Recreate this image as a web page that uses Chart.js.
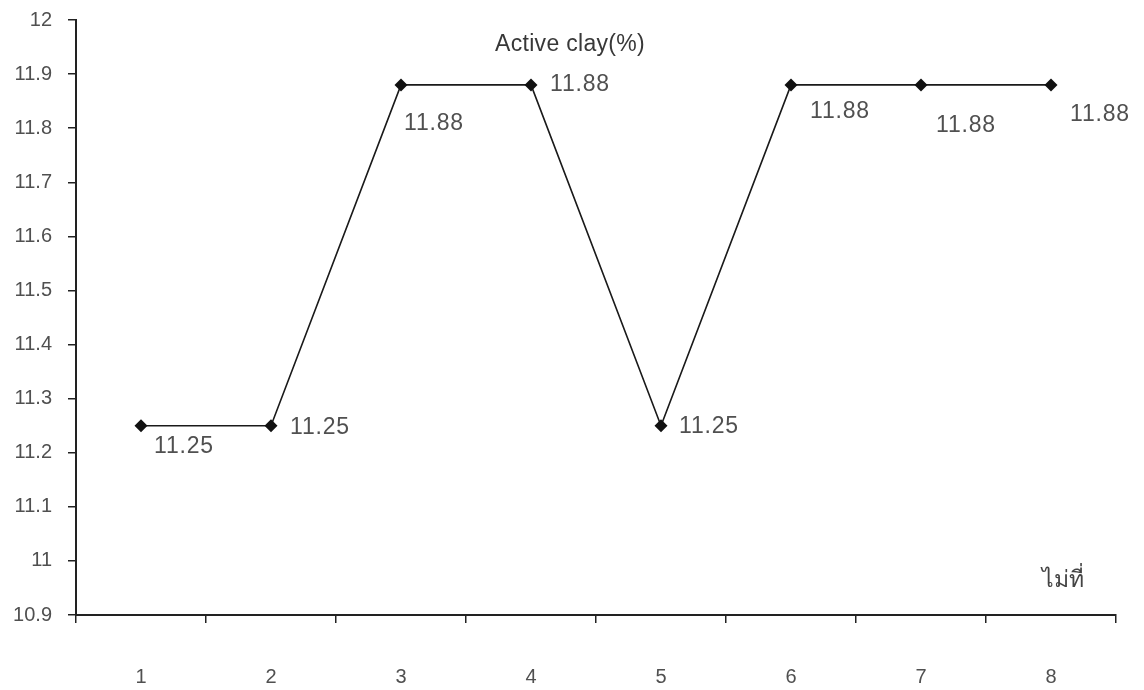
<!DOCTYPE html>
<html>
<head>
<meta charset="utf-8">
<script src="https://cdn.jsdelivr.net/npm/chart.js@4.4.1/dist/chart.umd.min.js"></script>
<style>
  html, body { margin: 0; padding: 0; background: #ffffff; }
  #wrap { width: 1144px; height: 690px; position: relative; }
</style>
</head>
<body>
<div id="wrap"><canvas id="c" width="1144" height="690"></canvas></div>
<script>
const categories = ["1", "2", "3", "4", "5", "6", "7", "8"];
const activeClay = [11.25, 11.25, 11.88, 11.88, 11.25, 11.88, 11.88, 11.88];
const dataLabels = ["11.25", "11.25", "11.88", "11.88", "11.25", "11.88", "11.88", "11.88"];
const chartTitle = "Active clay(%)";
const xAxisTitle = "ไม่ที่";
const yMin = 10.9, yMax = 12, yStep = 0.1;

// label placement offsets relative to each point (style only)
const labelOffsets = [[13, 21], [19, 2], [3, 39], [19, 0], [18, 1], [19, 27], [15, 41], [19, 30]];

const FONT = "'Liberation Sans', Arial, Helvetica, sans-serif";
const TEXT = "#505050";

const labelPlugin = {
  id: "labelPlugin",
  afterDatasetsDraw(chart) {
    const ctx = chart.ctx;
    const meta = chart.getDatasetMeta(0);
    ctx.save();
    ctx.font = "23px " + FONT;
    try { ctx.letterSpacing = "0.8px"; } catch (e) {}
    ctx.fillStyle = TEXT;
    ctx.textAlign = "left";
    ctx.textBaseline = "middle";
    meta.data.forEach((pt, i) => {
      const o = labelOffsets[i];
      ctx.fillText(dataLabels[i], pt.x + o[0], pt.y + o[1]);
    });
    // title
    const area = chart.chartArea;
    ctx.textAlign = "center";
    ctx.fillStyle = "#383838";
    ctx.font = "23px " + FONT;
    try { ctx.letterSpacing = "0.3px"; } catch (e) {}
    ctx.fillText(chartTitle, chart.scales.x.getPixelForValue(3.2) + 13, 45);
    // x axis title
    try { ctx.letterSpacing = "0px"; } catch (e) {}
    ctx.textAlign = "right";
    ctx.font = "23px 'Noto Sans', " + FONT;
    ctx.fillStyle = "#444444";
    ctx.fillText(xAxisTitle, area.right - 32, 580);
    ctx.restore();
  }
};

new Chart(document.getElementById("c"), {
  type: "line",
  data: {
    labels: categories,
    datasets: [{
      data: activeClay,
      borderColor: "#1a1a1a",
      borderWidth: 1.6,
      pointStyle: "rectRot",
      pointRadius: 6.5,
      pointBackgroundColor: "#111111",
      pointBorderColor: "#111111",
      pointBorderWidth: 0,
      tension: 0,
      fill: false
    }]
  },
  options: {
    responsive: false,
    animation: false,
    devicePixelRatio: 1,
    layout: { padding: { top: 20, right: 28, left: 0, bottom: 0 } },
    plugins: { legend: { display: false }, tooltip: { enabled: false }, title: { display: false } },
    scales: {
      x: {
        type: "category",
        offset: true,
        grid: { offset: true, drawOnChartArea: false, drawTicks: true, tickLength: 8, color: "#222", lineWidth: 1.5 },
        border: { display: true, color: "#222", width: 2 },
        ticks: { color: TEXT, font: { family: FONT, size: 20 }, padding: 42, maxRotation: 0 },
        afterFit(scale) { scale.height = 75; scale.paddingLeft = 0; scale.paddingRight = 0; }
      },
      y: {
        min: yMin,
        max: yMax,
        grid: { drawOnChartArea: false, drawTicks: true, tickLength: 8, color: "#222", lineWidth: 1.5 },
        border: { display: true, color: "#222", width: 2 },
        ticks: {
          stepSize: yStep,
          color: TEXT,
          font: { family: FONT, size: 20 },
          padding: 16,
          callback: (v) => String(Number(v.toFixed(1)))
        },
        afterFit(scale) { scale.width = 76; scale.paddingTop = 0; scale.paddingBottom = 0; }
      }
    }
  },
  plugins: [labelPlugin]
});
</script>
</body>
</html>
